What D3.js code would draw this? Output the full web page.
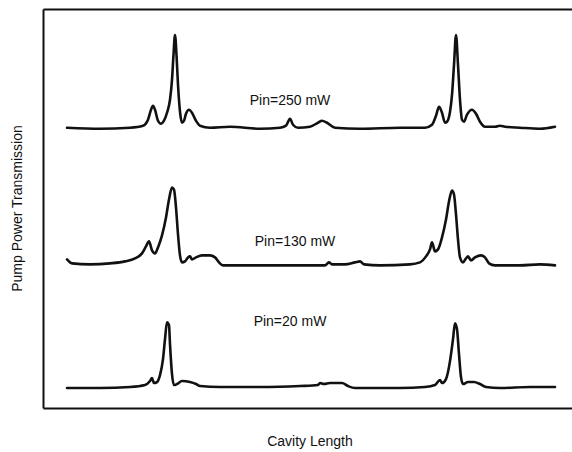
<!DOCTYPE html>
<html>
<head>
<meta charset="utf-8">
<script src="https://cdn.jsdelivr.net/npm/d3@7"></script>
<style>
  body { margin: 0; background: #fff; }
  text { font-family: "Liberation Sans", Arial, sans-serif; fill: #111; }
</style>
</head>
<body>
<div id="chart"></div>
<script>
(function () {
  'use strict';

  // transmission traces: [cavity length, transmission] (arbitrary units)
  var pin250 = [
    [24,281],[57,280],[87,281],[100,283],[105,289],[108,299],[110,303],[112,299],[115,288],[118,285],
    [121,288],[124,296],[127,309],[129,329],[130.5,354],[132,374],[133.5,354],[135,324],[137,297],[139,286],
    [141,288],[143,295],[146,299],[149,296],[153,288],[157,283],[167,281],[187,282],[217,280],[237,281],
    [243,283],[247,290],[250,284],[255,281],[267,282],[275,286],[279,288],[284,286],[292,281],[317,280],
    [357,281],[382,281],[389,284],[393,293],[396,302],[399,296],[402,286],[404,287],[407,297],[409,314],
    [411,344],[413,374],[415,344],[417,309],[419,289],[421,287],[424,294],[429,299],[433,295],[437,287],
    [442,282],[452,282],[457,283],[462,282],[477,281],[497,280],[512,282]
  ];
  var pin130 = [
    [24,149],[29,145],[47,144],[67,145],[82,147],[92,150],[99,155],[103,162],[106,167],[109,158],
    [112,155],[115,161],[119,173],[123,191],[126,209],[129,221],[131,219],[133,201],[135,174],[137,153],
    [139,146],[142,147],[145,151],[147,152],[149,149],[153,151],[159,153],[167,153],[172,151],[176,146],
    [180,143],[197,143],[227,143],[257,143],[282,143],[286,146],[289,144],[302,144],[312,146],[317,147],
    [321,144],[337,143],[367,144],[377,146],[383,152],[387,159],[389,166],[392,157],[395,159],[399,171],
    [403,189],[406,207],[409,218],[411,214],[413,194],[415,169],[417,151],[420,146],[423,150],[425,152],
    [428,148],[432,151],[438,153],[442,151],[446,145],[452,143],[477,143],[497,144],[512,143]
  ];
  var pin20 = [
    [24,20],[57,20],[87,21],[102,23],[107,27],[109,30],[111,25],[114,26],[117,33],[120,49],
    [122,69],[124,86],[126,83],[127,64],[129,34],[131,23],[134,24],[139,27],[147,26],[153,24],
    [157,22],[177,21],[217,21],[257,22],[275,23],[277,25],[281,24],[287,25],[299,25],[305,22],
    [312,20],[357,20],[382,21],[392,23],[397,28],[399,25],[403,29],[407,47],[410,69],[412,85],
    [414,79],[416,54],[418,31],[420,24],[425,26],[431,26],[437,24],[443,21],[457,20],[487,21],[512,21]
  ];

  var seriesNames = ['Pin=250 mW', 'Pin=130 mW', 'Pin=20 mW'];
  var seriesData = [pin250, pin130, pin20];
  // label anchor in data units (cavity length, transmission)
  var labelAt = [[247, 304], [252, 162], [247, 82]];

  var width = 572,
    height = 452,
    margin = { top: 9, right: -1, bottom: 44, left: 43 };

  var x = d3.scaleLinear().domain([0, 530]).range([margin.left, width - margin.right]);
  var y = d3.scaleLinear().domain([0, 400]).range([height - margin.bottom, margin.top]);

  var svg = d3.select('#chart').append('svg')
    .attr('width', width)
    .attr('height', height);

  // frame (no ticks)
  var frame = svg.append('g').attr('class', 'frame');
  frame.append('g')
    .attr('transform', 'translate(' + margin.left + ',0)')
    .call(d3.axisLeft(y).tickValues([]).tickSizeOuter(0));
  frame.append('g')
    .attr('transform', 'translate(0,' + (height - margin.bottom) + ')')
    .call(d3.axisBottom(x).tickValues([]).tickSizeOuter(0));
  frame.append('g')
    .attr('transform', 'translate(0,' + margin.top + ')')
    .call(d3.axisTop(x).tickValues([]).tickSizeOuter(0));
  frame.selectAll('.domain').attr('stroke', '#111').attr('stroke-width', 2);

  var line = d3.line()
    .x(function (d) { return x(d[0]); })
    .y(function (d) { return y(d[1]); })
    .curve(d3.curveMonotoneX);

  svg.append('g').selectAll('path')
    .data(seriesData)
    .enter()
    .append('path')
    .attr('d', line)
    .attr('fill', 'none')
    .attr('stroke', '#111')
    .attr('stroke-width', 2.6)
    .attr('stroke-linejoin', 'round')
    .attr('stroke-linecap', 'round');

  svg.append('g').selectAll('text')
    .data(seriesNames)
    .enter()
    .append('text')
    .attr('x', function (d, i) { return x(labelAt[i][0]); })
    .attr('y', function (d, i) { return y(labelAt[i][1]); })
    .attr('text-anchor', 'middle')
    .style('font-size', '14px')
    .text(function (d) { return d; });

  svg.append('text')
    .attr('x', 310)
    .attr('y', 446)
    .attr('text-anchor', 'middle')
    .style('font-size', '14px')
    .text('Cavity Length');

  svg.append('text')
    .attr('transform', 'translate(22,' + ((margin.top + height - margin.bottom) / 2) + ') rotate(-90)')
    .attr('text-anchor', 'middle')
    .style('font-size', '14px')
    .text('Pump Power Transmission');
})();
</script>
</body>
</html>
